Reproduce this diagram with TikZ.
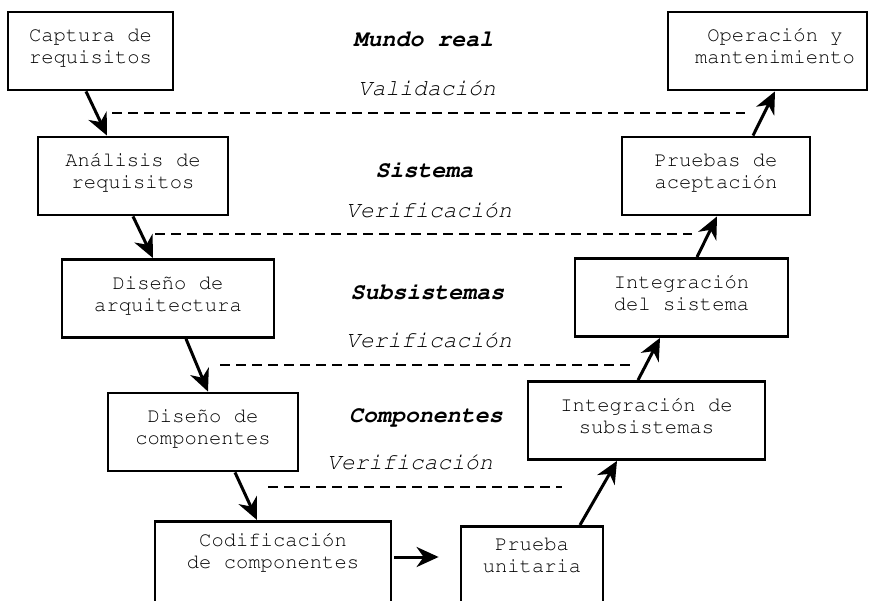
\documentclass[tikz,border=0pt]{standalone}
\usepackage[T1,TU]{fontenc}
\usetikzlibrary{arrows.meta}
% Courier-style typewriter face for every label
\newcommand{\courierface}{\fontencoding{T1}\fontfamily{pcr}\selectfont}
\begin{document}
\begin{tikzpicture}[x=1pt,y=-1pt,
  stage/.style={draw, line width=2.8pt, inner sep=0pt, align=center,
    font=\courierface\fontsize{20.5}{22}\selectfont, minimum height=78pt, text depth=10pt},
  openstage/.style={stage, anchor=north, minimum height=0pt, inner ysep=11pt, text depth=80pt},
  flow/.style={line width=3pt, -{Stealth[length=22pt,width=20pt,inset=7pt]}},
  guide/.style={line width=2.2pt, dash pattern=on 10pt off 6pt},
  level/.style={anchor=base, font=\courierface\bfseries\itshape\fontsize{23.3}{26}\selectfont},
  check/.style={anchor=base, font=\courierface\itshape\fontsize{23}{26}\selectfont}]
\clip (0,0) rectangle (869,601);
\fill[white] (0,0) rectangle (869,601);

% left branch of the V
\node[stage, minimum width=165pt] (cap)  at (90.5,51)  {Captura de\\requisitos};
\node[stage, minimum width=190pt] (ana)  at (133,176)  {Análisis de\\requisitos};
\node[stage, minimum width=212pt] (arq)  at (168,298.5) {Diseño de\\arquitectura};
\node[stage, minimum width=190pt] (comp) at (203,432)  {Diseño de\\componentes};
\node[openstage, minimum width=236pt] (cod) at (273,520) {Codificación\\de componentes};

% right branch of the V
\node[openstage, minimum width=142pt] (pru) at (532,525) {Prueba\\unitaria};
\node[stage, minimum width=237pt] (intsub)  at (646.5,420.5) {Integración de\\subsistemas};
\node[stage, minimum width=213pt] (intsist) at (681.5,297.5) {Integración\\del sistema};
\node[stage, minimum width=188pt] (acep)    at (716,176)     {Pruebas de\\aceptación};
\node[stage, minimum width=199pt] (op)      at (767.5,51)
  {\hspace*{15pt}Operación y\\\hspace*{15pt}mantenimiento};

% level names
\node[level] (lmundo) at (423.5,47)  {Mundo real};
\node[level] (lsist)  at (424.5,178) {Sistema};
\node[level] (lsub)   at (427.5,300) {Subsistemas};
\node[level] (lcomp)  at (426,422)   {Componentes};

% checks between the levels
\node[check] (cval)  at (427,96)  {Validación};
\node[check] (cver1) at (429,218) {Verificación};
\node[check] (cver2) at (429,347) {Verificación};
\node[check] (cver3) at (410,469) {Verificación};

\coordinate (g1a) at (112,113); \coordinate (g1b) at (745,113);
\coordinate (g2a) at (155,234); \coordinate (g2b) at (692,234);
\coordinate (g3a) at (220,365); \coordinate (g3b) at (632,365);
\coordinate (g4a) at (268,487); \coordinate (g4b) at (562,487);
\draw[guide] (g1a) -- (g1b);
\draw[guide] (g2a) -- (g2b);
\draw[guide] (g3a) -- (g3b);
\draw[guide] (g4a) -- (g4b);

% flow through the stages
\draw[flow] ([xshift=-4.5pt]cap.south) -- ([xshift=-26pt]ana.north);
\draw[flow] (ana.south) -- ([xshift=-15pt]arq.north);
\draw[flow] ([xshift=18pt]arq.south) -- ([xshift=5pt]comp.north);
\draw[flow] ([xshift=32pt]comp.south) -- ([xshift=-16pt]cod.north);
\draw[flow, shorten <=2pt, shorten >=21pt] ([yshift=-37pt]cod.north east) -- ([yshift=-32pt]pru.north west);
\draw[flow] ([xshift=48pt]pru.north) -- ([xshift=-29.5pt]intsub.south);
\draw[flow] ([xshift=-8.5pt]intsub.north) -- ([xshift=-21.5pt]intsist.south);
\draw[flow] ([xshift=15.5pt]intsist.north) -- ([xshift=1pt]acep.south);
\draw[flow] ([xshift=37pt]acep.north) -- ([xshift=7.5pt]op.south);
\end{tikzpicture}
\end{document}
